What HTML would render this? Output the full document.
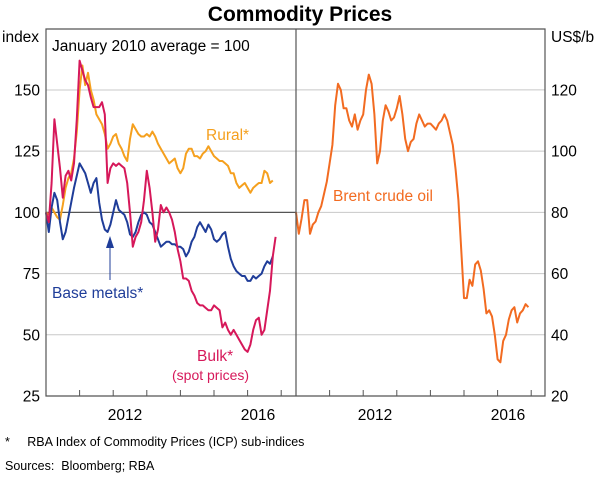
<!DOCTYPE html>
<html><head><meta charset="utf-8"><style>
body{margin:0;background:#fff;}
svg text{font-family:"Liberation Sans",sans-serif;}
</style></head><body>
<svg id="c" width="600" height="475" xmlns="http://www.w3.org/2000/svg">
<text x="300" y="21" text-anchor="middle" font-size="21" font-weight="bold">Commodity Prices</text>
<g id="grid"></g>
<g id="series"></g>
<g id="frame"></g>
<g id="labels"></g>
<text x="52" y="51" font-size="15.5">January 2010 average = 100</text>
<text x="206" y="140" font-size="15.5" fill="#f5a01e">Rural*</text>
<text x="52" y="298" font-size="15.5" fill="#1f3d99">Base metals*</text>
<line x1="110" y1="280" x2="110" y2="246" stroke="#1f3d99" stroke-width="1"/>
<polygon points="110,236 106,248 114,248" fill="#1f3d99"/>
<text x="197" y="361" font-size="15.5" fill="#d6185a">Bulk*</text>
<text x="172" y="380" font-size="14" fill="#d6185a">(spot prices)</text>
<text x="333" y="201" font-size="15.5" fill="#f26b21">Brent crude oil</text>
<text x="5" y="446" font-size="12.5">*&#160;&#160;&#160;&#160;&#160;RBA Index of Commodity Prices (ICP) sub-indices</text>
<text x="5" y="470" font-size="12.5">Sources:&#160;&#160;Bloomberg; RBA</text>
</svg>
<script>
const leftTicks=[25,50,75,100,125,150];
const rightTicks=[20,40,60,80,100,120];
const yearLabels=["2012","2016"];
const rural=[100,99,102,100,98,97,103,110,114,116,122,133,150,160,152,157,150,146,140,138,136,132,126,128,131,132,128,126,123,121,130,136,134,132,131,131,132,131,133,131,128,126,124,122,120,121,122,118,116,118,124,126,126,123,123,122,124,125,127,125,123,122,121,121,120,119,116,116,112,110,111,112,110,108,110,111,112,112,117,116,112,113];
const bulk=[100,96,112,138,128,118,106,115,117,113,120,138,162,158,154,152,147,143,143,143,145,140,112,118,120,119,120,119,118,112,100,86,90,92,96,105,117,110,100,88,93,103,100,102,100,97,92,85,80,73,73,72,68,66,63,62,62,61,60,60,62,61,60,53,55,52,50,52,50,48,46,44,43,46,52,56,57,50,52,60,68,82,90];
const baseMetals=[100,92,102,108,105,96,89,92,98,104,110,115,120,118,116,112,108,112,114,104,97,93,92,95,100,105,101,100,99,96,91,90,92,96,99,100,99,96,95,92,89,86,87,88,88,87,87,86,86,85,82,84,88,90,94,96,94,92,95,93,89,88,89,91,92,86,81,78,76,75,74,74,72,72,74,73,74,75,78,80,79,82];
const brent=[80,73,78,84,84,73,76,77,80,82,86,90,96,102,115,122,120,114,114,110,108,112,107,110,112,120,125,122,112,96,100,110,115,113,110,111,114,118,112,104,100,103,104,109,112,110,108,109,109,108,107,109,110,112,110,106,102,94,84,68,52,52,58,56,63,64,61,55,47,48,46,40,32,31,38,40,45,48,49,44,47,48,50,49];
const NS="http://www.w3.org/2000/svg";
const pTop=29,pBot=396,LX=46,MX=296,RX=545,yr=33.6;
const yL=v=>pBot-(v-25)*(pBot-pTop)/(174.9-25);
const yR=v=>pBot-(v-20)*(pBot-pTop)/(139.9-20);
const xL=t=>LX+t*yr, xR=t=>MX+t*yr;
function mk(tag,attrs,parent){const e=document.createElementNS(NS,tag);for(const k in attrs)e.setAttribute(k,attrs[k]);document.getElementById(parent).appendChild(e);return e;}
leftTicks.forEach(v=>{
 if(v>25&&v!==100){const l=mk('line',{x1:LX,x2:MX,y1:yL(v),y2:yL(v),stroke:'#c8c8c8','stroke-width':1},'grid');
 
 }
 const t=mk('text',{x:40,y:yL(v)+5.5,'text-anchor':'end','font-size':15.5},'labels');t.textContent=v;
 
 
});
rightTicks.forEach(v=>{
 if(v>20){const l=mk('line',{x1:MX,x2:RX,y1:yR(v),y2:yR(v),stroke:'#c8c8c8','stroke-width':1},'grid');
 
 }
 const t=mk('text',{x:551,y:yR(v)+5.5,'font-size':15.5},'labels');t.textContent=v;
 
 
});
const h=mk('line',{x1:LX,x2:MX,y1:yL(100),y2:yL(100),stroke:'#555','stroke-width':1.2},'grid');


function poly(arr,yf,xf,color,name){
 const pts=arr.map((v,i)=>xf(i/12).toFixed(1)+','+yf(v).toFixed(1)).join(' ');
 const p=mk('polyline',{points:pts,fill:'none',stroke:color,'stroke-width':2,'stroke-linejoin':'round'},'series');
 
 
}
poly(rural,yL,xL,'#f5a01e','rural-line');
poly(baseMetals,yL,xL,'#1f3d99','base-metals-line');
poly(bulk,yL,xL,'#d6185a','bulk-line');
poly(brent,yR,xR,'#f26b21','brent-line');
const fr=mk('path',{d:`M${LX},${pTop}H${RX}V${pBot}H${LX}Z M${MX},${pTop}V${pBot}`,fill:'none',stroke:'#555','stroke-width':1.2},'frame');


for(let k=1;k<=7;k++){
 [xL(k),xR(k)].forEach(x=>{if(x<RX-1&&Math.abs(x-MX)>1){const t=mk('line',{x1:x,x2:x,y1:pBot,y2:pBot-6,stroke:'#555','stroke-width':1},'frame');
 
 }});
}
[[125,0],[258,1],[375,0],[508,1]].forEach(([x,i])=>{
 const t=mk('text',{x:x,y:420,'text-anchor':'middle','font-size':15.5},'labels');t.textContent=yearLabels[i];
 
 
});
const il=mk('text',{x:2,y:42,'font-size':15.5},'labels');il.textContent='index';


const ul=mk('text',{x:551,y:42,'font-size':15.5},'labels');ul.textContent='US$/b';


</script>
</body></html>
